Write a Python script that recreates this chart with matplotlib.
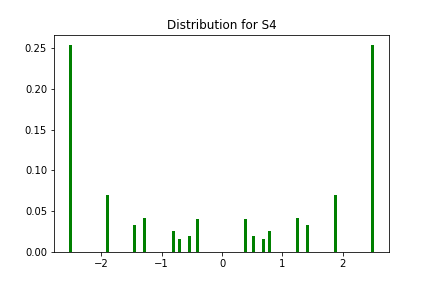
import matplotlib
matplotlib.use("Agg")
import matplotlib.pyplot as plt

values = [-2.51, -1.895, -1.45, -1.28, -0.80, -0.70, -0.54, -0.40,
          0.385, 0.52, 0.69, 0.785, 1.25, 1.42, 1.88, 2.49]
probs = [0.254, 0.070, 0.0335, 0.042, 0.026, 0.0163, 0.020, 0.0408,
         0.0408, 0.020, 0.0163, 0.026, 0.042, 0.0335, 0.070, 0.254]

fig, ax = plt.subplots(figsize=(6, 4), dpi=72)
fig.subplots_adjust(left=0.125, right=0.9, top=0.88, bottom=0.125)
ax.bar(values, probs, width=0.05, color="g")
ax.set_title("Distribution for S4")
fig.savefig("out.png", dpi=72)
